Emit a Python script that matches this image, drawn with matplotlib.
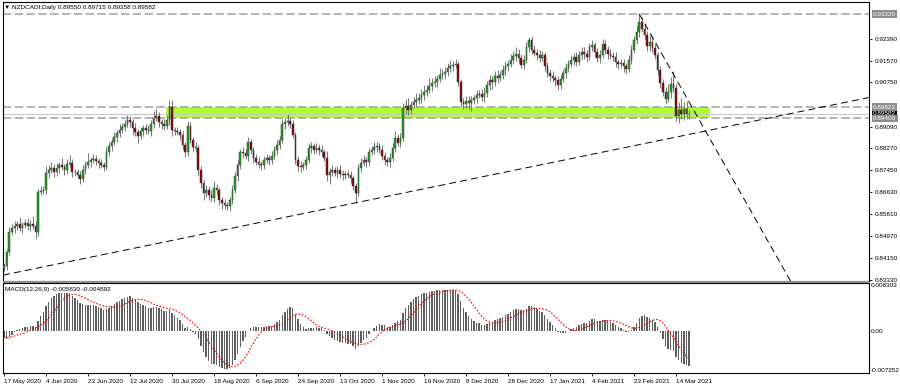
import matplotlib
matplotlib.use('Agg')
import matplotlib.pyplot as plt
import numpy as np
import pandas as pd
from matplotlib.patches import Rectangle
from matplotlib.transforms import blended_transform_factory

plt.rcParams['lines.scale_dashes'] = False
FONT = ['Liberation Sans', 'DejaVu Sans']
plt.rcParams['font.family'] = FONT

# ---------------- data ----------------
title_text = "\u25BC NZDCADf,Daily 0.89550 0.89715 0.89358 0.89582"
macd_text = "MACD(12,26,9) -0.005830 -0.004892"

first_open = 0.8378
closes = [
    0.8386, 0.8438, 0.8513, 0.8528, 0.8536, 0.8543, 0.8528, 0.8540, 0.8547, 0.8536,
    0.8543, 0.8536, 0.8513, 0.8663, 0.8667, 0.8671, 0.8735, 0.8746, 0.8754, 0.8739,
    0.8754, 0.8765, 0.8757, 0.8746, 0.8769, 0.8772, 0.8739, 0.8739, 0.8727, 0.8712,
    0.8746, 0.8765, 0.8776, 0.8784, 0.8787, 0.8780, 0.8772, 0.8765, 0.8757, 0.8814,
    0.8836, 0.8851, 0.8870, 0.8885, 0.8896, 0.8908, 0.8919, 0.8934, 0.8926, 0.8904,
    0.8889, 0.8874, 0.8893, 0.8904, 0.8896, 0.8893, 0.8919, 0.8941, 0.8949, 0.8926,
    0.8919, 0.8911, 0.8934, 0.8983, 0.8896, 0.8893, 0.8889, 0.8878, 0.8840, 0.8814,
    0.8911, 0.8859, 0.8833, 0.8829, 0.8746, 0.8697, 0.8660, 0.8671, 0.8652, 0.8641,
    0.8679, 0.8671, 0.8633, 0.8622, 0.8615, 0.8611, 0.8633, 0.8671, 0.8724, 0.8765,
    0.8814, 0.8810, 0.8799, 0.8851, 0.8821, 0.8791, 0.8776, 0.8769, 0.8765, 0.8784,
    0.8791, 0.8784, 0.8799, 0.8821, 0.8840, 0.8859, 0.8919, 0.8926, 0.8930, 0.8919,
    0.8878, 0.8784, 0.8761, 0.8757, 0.8765, 0.8784, 0.8829, 0.8836, 0.8821, 0.8829,
    0.8821, 0.8814, 0.8791, 0.8727, 0.8739, 0.8746, 0.8735, 0.8746, 0.8731, 0.8727,
    0.8731, 0.8727, 0.8716, 0.8686, 0.8660, 0.8754, 0.8772, 0.8784, 0.8776, 0.8814,
    0.8821, 0.8833, 0.8836, 0.8821, 0.8799, 0.8784, 0.8776, 0.8791, 0.8829, 0.8866,
    0.8848, 0.8866, 0.8979, 0.8987, 0.8971, 0.8990, 0.9002, 0.9009, 0.9017, 0.9028,
    0.9039, 0.9047, 0.9062, 0.9073, 0.9077, 0.9088, 0.9103, 0.9107, 0.9114, 0.9129,
    0.9137, 0.9141, 0.9144, 0.9077, 0.9002, 0.8994, 0.9005, 0.8998, 0.9009, 0.9017,
    0.9028, 0.9032, 0.9020, 0.9035, 0.9065, 0.9084, 0.9077, 0.9099, 0.9092, 0.9103,
    0.9122, 0.9137, 0.9144, 0.9159, 0.9174, 0.9182, 0.9167, 0.9141, 0.9159, 0.9208,
    0.9234, 0.9197, 0.9186, 0.9178, 0.9167, 0.9178, 0.9137, 0.9110, 0.9099, 0.9092,
    0.9084, 0.9065, 0.9088, 0.9110, 0.9129, 0.9144, 0.9159, 0.9171, 0.9152, 0.9178,
    0.9189, 0.9182, 0.9171, 0.9208, 0.9216, 0.9189, 0.9167, 0.9178, 0.9219, 0.9197,
    0.9182, 0.9174, 0.9171, 0.9152, 0.9144, 0.9148, 0.9137, 0.9125, 0.9159, 0.9197,
    0.9234, 0.9264, 0.9302, 0.9276, 0.9253, 0.9212, 0.9227, 0.9204, 0.9178, 0.9122,
    0.9073, 0.9039, 0.9013, 0.9039, 0.9069, 0.9054, 0.8949, 0.8971, 0.8956, 0.8975,
    0.8955, 0.8958,
]
upper_wick_pips = [
    10, 12, 20, 15, 18, 10, 25, 12, 15, 20,
    14, 30, 18, 12, 20, 15, 25, 18, 22, 15,
    20, 12, 25, 10, 18, 30, 15, 12, 10, 14,
    18, 15, 35, 12, 20, 15, 10, 14, 12, 18,
    15, 12, 18, 10, 22, 14, 16, 20, 15, 12,
    18, 10, 14, 12, 15, 20, 16, 25, 30, 15,
    12, 18, 20, 25, 26, 10, 14, 12, 15, 10,
    18, 15, 12, 20, 10, 14, 12, 20, 15, 18,
    25, 15, 12, 10, 14, 10, 12, 18, 15, 20,
    12, 20, 15, 18, 10, 12, 15, 18, 12, 14,
    16, 12, 18, 15, 20, 14, 18, 16, 25, 12,
    15, 10, 14, 18, 12, 15, 20, 16, 12, 18,
    15, 20, 12, 25, 14, 18, 12, 15, 20, 14,
    12, 16, 14, 10, 12, 15, 18, 20, 12, 16,
    14, 18, 15, 12, 20, 14, 12, 18, 20, 25,
    15, 18, 20, 25, 30, 15, 20, 25, 18, 22,
    25, 20, 28, 18, 22, 15, 25, 20, 18, 20,
    22, 15, 18, 10, 12, 15, 20, 18, 14, 12,
    20, 15, 18, 22, 14, 20, 16, 18, 22, 15,
    18, 20, 15, 22, 18, 25, 20, 15, 18, 20,
    12, 15, 18, 14, 20, 16, 12, 15, 14, 18,
    12, 15, 16, 14, 18, 15, 20, 14, 18, 15,
    18, 20, 14, 16, 20, 12, 15, 18, 20, 16,
    14, 18, 15, 20, 12, 16, 14, 12, 18, 20,
    15, 22, 30, 18, 20, 15, 25, 18, 15, 12,
    14, 15, 18, 30, 25, 48, 15, 30, 45, 25,
    30, 13,
]
lower_wick_pips = [
    13, 15, 10, 12, 18, 15, 10, 20, 12, 15,
    18, 12, 25, 15, 10, 12, 15, 20, 12, 18,
    15, 20, 12, 18, 15, 10, 20, 15, 12, 18,
    12, 15, 10, 18, 12, 15, 20, 10, 15, 12,
    15, 18, 12, 20, 15, 10, 14, 12, 18, 25,
    15, 25, 12, 18, 15, 12, 20, 15, 12, 18,
    20, 15, 12, 18, 22, 15, 12, 18, 15, 20,
    15, 12, 20, 15, 18, 20, 25, 15, 18, 12,
    15, 20, 18, 22, 15, 15, 20, 15, 12, 18,
    15, 18, 12, 20, 15, 18, 12, 15, 20, 14,
    12, 18, 15, 12, 20, 15, 12, 18, 14, 16,
    12, 15, 18, 20, 12, 15, 10, 18, 15, 12,
    18, 15, 12, 22, 35, 15, 12, 18, 15, 20,
    15, 12, 18, 15, 37, 10, 15, 12, 18, 15,
    12, 15, 18, 12, 15, 20, 14, 18, 12, 15,
    12, 15, 10, 22, 18, 15, 12, 18, 15, 20,
    18, 15, 12, 20, 15, 18, 12, 15, 18, 16,
    14, 18, 12, 15, 20, 18, 15, 22, 30, 15,
    18, 12, 15, 20, 14, 18, 25, 15, 20, 12,
    15, 18, 20, 12, 15, 18, 20, 12, 15, 10,
    18, 15, 12, 20, 15, 12, 18, 15, 20, 14,
    22, 18, 15, 12, 20, 15, 12, 18, 15, 12,
    15, 18, 20, 12, 15, 18, 14, 20, 12, 15,
    18, 12, 15, 20, 18, 15, 22, 18, 12, 15,
    12, 15, 18, 12, 15, 20, 18, 14, 15, 20,
    18, 15, 20, 12, 22, 15, 18, 25, 20, 22,
    18, 19,
]

date_labels = ["17 May 2020", "4 Jun 2020", "23 Jun 2020", "12 Jul 2020", "30 Jul 2020",
               "18 Aug 2020", "6 Sep 2020", "24 Sep 2020", "13 Oct 2020", "1 Nov 2020",
               "19 Nov 2020", "8 Dec 2020", "28 Dec 2020", "17 Jan 2021", "4 Feb 2021",
               "23 Feb 2021", "14 Mar 2021"]
date_label_step = 16

price_ticks = [0.92390, 0.91570, 0.90750, 0.89090, 0.88270, 0.87450,
               0.86630, 0.85810, 0.84970, 0.84150, 0.83330]
hline_top = 0.93320
zone_high = 0.89823
zone_low = 0.89400
last_price = 0.89582
zone_bars = (61.7, 269.0)
support_pts = [(0.0, 0.8352), (134.0, 0.8623)]
resist_pts = [(242.0, 0.9332), (299.4, 0.8333)]
macd_fast, macd_slow, macd_signal_len = 12, 26, 9
ema_seed = 0.8511          # EMA level carried in from before the first visible bar
macd_top, macd_bottom = 0.008303, -0.007252

# ---------------- layout ----------------
W, H = 900, 387
fig = plt.figure(figsize=(W / 100, H / 100), dpi=100)
fig.patch.set_facecolor('white')

def ax_rect(x0, y0, x1, y1):
    return [x0 / W, 1 - y1 / H, (x1 - x0) / W, (y1 - y0) / H]

ax = fig.add_axes(ax_rect(3, 2, 869, 281))
axm = fig.add_axes(ax_rect(3, 283, 869, 373), sharex=ax)

px_per_bar = 2.625
x0_bar_px = 4.0
xlim = ((3 - x0_bar_px) / px_per_bar, (869 - x0_bar_px) / px_per_bar)
ax.set_xlim(*xlim)
ax.set_ylim(0.83292, 0.93771)
axm.set_ylim(macd_bottom, macd_top)

c = np.array(closes)
o = np.r_[first_open, c[:-1]]
n = len(c)
idx = np.arange(n)
hi = np.maximum(o, c) + np.array(upper_wick_pips) * 1e-4
lo = np.minimum(o, c) - np.array(lower_wick_pips) * 1e-4

# zone rectangle
ax.add_patch(Rectangle((zone_bars[0], zone_low), zone_bars[1] - zone_bars[0],
                       zone_high - zone_low, facecolor='#adff2f', edgecolor='none', zorder=0.5))

# horizontal lines
for lvl in (hline_top, zone_high, zone_low):
    ax.axhline(lvl, color='#a0a0a0', lw=1.1, dashes=(6, 2.5), zorder=1)
ax.axhline(last_price, color='#c8c8c8', lw=0.7, zorder=1)

# candles
ax.vlines(idx, lo, hi, color='#7a7a7a', lw=0.75, zorder=2)
bull = c >= o
body_col = np.where(bull, '#18a818', '#8b0000')
ax.bar(idx, np.maximum(np.abs(c - o), 0.00010), bottom=np.minimum(o, c), width=0.65,
       color=body_col, edgecolor='#3a3a3a', linewidth=0.35, zorder=3)

# trend lines (rays)
def ray(p, q, x_from, x_to):
    (xa, ya), (xb, yb) = p, q
    s = (yb - ya) / (xb - xa)
    xs = np.array([x_from, x_to])
    return xs, ya + s * (xs - xa)

xs, ys = ray(*support_pts, xlim[0], xlim[1])
ax.plot(xs, ys, color='black', lw=0.7, dashes=(5, 3), zorder=4)
xs, ys = ray(*resist_pts, resist_pts[0][0], 330)
ax.plot(xs, ys, color='black', lw=0.7, dashes=(5, 3), zorder=4)

# MACD (EMA 12 - EMA 26, signal = SMA 9 as in MetaTrader)
cs = pd.Series([ema_seed] + list(closes))
ema_f = cs.ewm(span=macd_fast, adjust=False).mean()
ema_s = cs.ewm(span=macd_slow, adjust=False).mean()
macd = (ema_f - ema_s).iloc[1:].reset_index(drop=True)
sig = macd.rolling(macd_signal_len, min_periods=1).mean()
axm.bar(idx, macd.values, width=0.5, color='#5e5e5e', zorder=2)
axm.plot(idx, sig.values, color='#ff0000', lw=0.8, dashes=(1.2, 1.2), zorder=3)

# axes styling
for a in (ax, axm):
    for s in a.spines.values():
        s.set_color('black')
        s.set_linewidth(0.8)
    a.yaxis.tick_right()
    a.tick_params(axis='y', direction='out', length=2.5, width=0.6, pad=1.5,
                  labelsize=4.6, colors='black')

ax.set_yticks(price_ticks)
ax.set_yticklabels([f"{v:.5f}" for v in price_ticks])
ax.tick_params(axis='x', bottom=False, labelbottom=False)

tr = blended_transform_factory(ax.transAxes, ax.transData)
box_x = 1 + 4 / 866
ax.text(box_x, last_price, f"{last_price:.5f}", transform=tr, va='center', ha='left',
        fontsize=4.6, color='white', zorder=10,
        bbox=dict(boxstyle='square,pad=0.2', fc='black', ec='none'), clip_on=False)
for lvl in (hline_top, zone_high, zone_low):
    ax.text(box_x, lvl, f"{lvl:.5f}", transform=tr, va='center', ha='left',
            fontsize=4.6, color='white', zorder=11,
            bbox=dict(boxstyle='square,pad=0.2', fc='#8c8c8c', ec='none'), clip_on=False)

axm.set_yticks([macd_top, 0.0, macd_bottom])
axm.set_yticklabels([f"{macd_top:.6f}", "0.00", f"{macd_bottom:.6f}"])
ylbls = axm.get_yticklabels()
ylbls[0].set_va('top')
ylbls[2].set_va('bottom')
axm.tick_params(axis='y', length=0)

ticks = np.arange(len(date_labels)) * date_label_step
axm.set_xticks(ticks)
axm.set_xticklabels(date_labels)
axm.tick_params(axis='x', direction='out', length=2.5, width=0.6, pad=1.5,
                labelsize=4.6, colors='black')
for lbl in axm.get_xticklabels():
    lbl.set_ha('left')

# separator between panes
fig.patches.append(Rectangle((3 / W, 1 - 283 / H), 866 / W, 2 / H, transform=fig.transFigure,
                             facecolor='#8c8c8c', edgecolor='none'))

fig.text(4 / W, 1 - 7 / H, title_text, fontsize=4.6, va='center', ha='left',
         color='black', family=FONT)
fig.text(5 / W, 1 - 289 / H, macd_text, fontsize=4.6, va='center', ha='left', color='black')

fig.savefig('out.png', dpi=100)
